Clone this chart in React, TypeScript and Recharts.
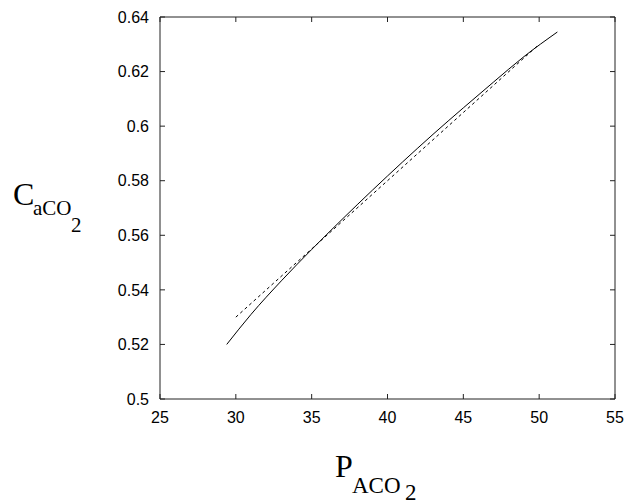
import React from 'react';
import { LineChart, Line, XAxis, YAxis } from 'recharts';

// solid curve (model)
const solidX = [29.4, 31, 33, 35, 37, 39, 41, 43, 45, 47, 49, 51.2];
const solidY = [0.52, 0.531, 0.5433, 0.5548, 0.5658, 0.5765, 0.5869, 0.597, 0.6067, 0.6162, 0.6255, 0.6345];

// dashed reference line
const dashX = [30, 50];
const dashY = [0.53, 0.63];

const xTicks = [25, 30, 35, 40, 45, 50, 55];
const yTicks = [0.5, 0.52, 0.54, 0.56, 0.58, 0.6, 0.62, 0.64];

const solidData = solidX.map((x, i) => ({ x, y: solidY[i] }));
const dashData = dashX.map((x, i) => ({ x, y: dashY[i] }));

const tickFont = { fontFamily: '"Liberation Sans", Arial, sans-serif', fontSize: 16, fill: '#000' };
const axisStroke = '#222';
const blank = () => '';

export default function App() {
  return (
    <div style={{ position: 'absolute', left: 0, top: 0, width: 626, height: 502, background: '#fff' }}>
      <LineChart width={626} height={502} data={solidData} margin={{ top: 15, right: 9, bottom: 73, left: 110 }}>
        <XAxis
          xAxisId="b"
          dataKey="x"
          type="number"
          domain={[25, 55]}
          ticks={xTicks}
          height={30}
          tickSize={-5}
          tickMargin={18}
          tick={tickFont}
          stroke={axisStroke}
          allowDataOverflow
        />
        <XAxis
          xAxisId="t"
          dataKey="x"
          orientation="top"
          type="number"
          domain={[25, 55]}
          ticks={xTicks}
          height={2}
          tickSize={-5}
          tickFormatter={blank}
          stroke={axisStroke}
          allowDataOverflow
        />
        <YAxis
          yAxisId="l"
          type="number"
          domain={[0.5, 0.64]}
          ticks={yTicks}
          width={50}
          tickSize={-5}
          tickMargin={16}
          tick={tickFont}
          stroke={axisStroke}
          allowDataOverflow
        />
        <YAxis
          yAxisId="r"
          orientation="right"
          type="number"
          domain={[0.5, 0.64]}
          ticks={yTicks}
          width={2}
          tickSize={-5}
          tickFormatter={blank}
          stroke={axisStroke}
          allowDataOverflow
        />
        <Line
          xAxisId="b"
          yAxisId="l"
          data={solidData}
          dataKey="y"
          type="monotone"
          stroke="#000"
          strokeWidth={1}
          dot={false}
          isAnimationActive={false}
        />
        <Line
          xAxisId="b"
          yAxisId="l"
          data={dashData}
          dataKey="y"
          type="linear"
          stroke="#000"
          strokeWidth={1}
          strokeDasharray="3 3"
          dot={false}
          isAnimationActive={false}
        />
        {/* invisible series so the mirrored top/right axes get drawn */}
        <Line
          xAxisId="t"
          yAxisId="r"
          data={dashData}
          dataKey="y"
          stroke="none"
          dot={false}
          activeDot={false}
          legendType="none"
          isAnimationActive={false}
        />
      </LineChart>
      <svg
        width={626}
        height={502}
        style={{ position: 'absolute', left: 0, top: 0, pointerEvents: 'none' }}
        fontFamily='"Liberation Serif", "Times New Roman", serif'
      >
        <text x={13} y={205} fontSize={32}>C</text>
        <text x={33} y={215} fontSize={21}>aCO</text>
        <text x={71} y={232} fontSize={21}>2</text>
        <text x={335} y={477} fontSize={32}>P</text>
        <text x={352} y={493} fontSize={23}>ACO</text>
        <text x={405} y={500} fontSize={23}>2</text>
      </svg>
    </div>
  );
}
